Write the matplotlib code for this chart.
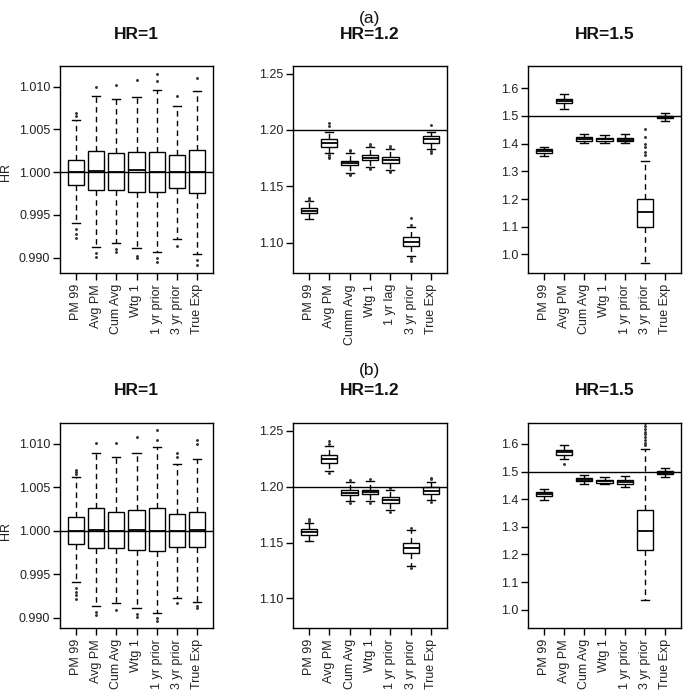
import matplotlib
matplotlib.use("Agg")
import matplotlib.pyplot as plt

plt.rcParams['font.family'] = ['Liberation Sans', 'DejaVu Sans']

# ---------------- data ----------------
labels_std = ["PM 99", "Avg PM", "Cum Avg", "Wtg 1", "1 yr prior", "3 yr prior", "True Exp"]
labels_a12 = ["PM 99", "Avg PM", "Cumm Avg", "Wtg 1", "1 yr lag", "3 yr prior", "True Exp"]

# each row: [lower whisker, Q1, median, Q3, upper whisker]
A1_STATS = [[0.9940, 0.99844, 1.0000, 1.00145, 1.0061],
            [0.99129, 0.99793, 1.00016, 1.00242, 1.0089],
            [0.9917, 0.9979, 1.0000, 1.0022, 1.0085],
            [0.9911, 0.9977, 1.0002, 1.0024, 1.0088],
            [0.9907, 0.9977, 1.0000, 1.0024, 1.0096],
            [0.9922, 0.9981, 1.0000, 1.0020, 1.0077],
            [0.9904, 0.9975, 1.0000, 1.0026, 1.0095]]
A1_FLIERS = [[1.0065, 1.0069, 0.9934, 0.9928, 0.9923],
             [1.0100, 0.9905, 0.9901],
             [1.0102, 0.9910, 0.9907],
             [1.0108, 0.9902, 0.9899],
             [1.0115, 1.0106, 0.9899, 0.9895],
             [1.0089, 0.9914],
             [1.0110, 0.9897, 0.9891]]

A2_STATS = [[1.1207, 1.1261, 1.1284, 1.1305, 1.1370],
            [1.1793, 1.1852, 1.1885, 1.1917, 1.1985],
            [1.1621, 1.1686, 1.1707, 1.1727, 1.1799],
            [1.1669, 1.1734, 1.1754, 1.1775, 1.1846],
            [1.1645, 1.1710, 1.1736, 1.1763, 1.1829],
            [1.0881, 1.0970, 1.1008, 1.1047, 1.1142],
            [1.1829, 1.1888, 1.1917, 1.1947, 1.1985]]
A2_FLIERS = [[1.1380, 1.1395],
             [1.2036, 1.2060, 1.1775, 1.1760, 1.1749],
             [1.1810, 1.1822, 1.1610, 1.1600],
             [1.1860, 1.1873, 1.1660, 1.1651],
             [1.1842, 1.1858, 1.1636, 1.1627],
             [1.1160, 1.1216, 1.0860, 1.0840],
             [1.2044, 1.1815, 1.1799]]

A3_STATS = [[1.3567, 1.3664, 1.3736, 1.3810, 1.3890],
            [1.5240, 1.5470, 1.5540, 1.5610, 1.5790],
            [1.4025, 1.4100, 1.4160, 1.4230, 1.4340],
            [1.4030, 1.4100, 1.4160, 1.4220, 1.4310],
            [1.4010, 1.4090, 1.4150, 1.4210, 1.4340],
            [0.9680, 1.1004, 1.1523, 1.1993, 1.3386],
            [1.4820, 1.4917, 1.4964, 1.5010, 1.5110]]
A3_FLIERS = [[], [], [], [], [],
             [1.358, 1.369, 1.389, 1.400, 1.425, 1.452],
             []]

B1_STATS = [[0.9941, 0.99846, 1.0000, 1.0016, 1.0062],
            [0.9914, 0.9980, 1.0001, 1.0026, 1.0090],
            [0.9917, 0.9980, 1.0000, 1.0022, 1.0085],
            [0.9912, 0.9978, 1.0001, 1.0024, 1.0090],
            [0.9906, 0.9977, 1.0000, 1.0026, 1.0096],
            [0.9923, 0.9981, 1.0000, 1.0020, 1.0077],
            [0.9918, 0.9981, 1.0001, 1.0022, 1.0083]]
B1_FLIERS = [[1.0065, 1.0068, 1.0070, 0.9935, 0.9930, 0.9926, 0.9922],
             [1.0101, 0.9907, 0.9903],
             [1.0101, 0.9909],
             [1.0108, 0.9905, 0.9901],
             [1.0116, 1.0104, 0.9900, 0.9897],
             [1.0085, 1.0090, 0.9917],
             [1.0100, 1.0104, 0.9914, 0.9911]]

B2_STATS = [[1.1517, 1.1568, 1.1595, 1.1619, 1.1672],
            [1.2143, 1.2215, 1.2250, 1.2286, 1.2364],
            [1.1872, 1.1926, 1.1946, 1.1973, 1.2042],
            [1.1872, 1.1935, 1.1952, 1.1973, 1.2051],
            [1.1792, 1.1851, 1.1878, 1.1905, 1.1970],
            [1.1293, 1.1410, 1.1454, 1.1499, 1.1613],
            [1.1881, 1.1935, 1.1964, 1.1995, 1.2045]]
B2_FLIERS = [[1.1690, 1.1708],
             [1.2385, 1.2411, 1.2125],
             [1.2060, 1.1852],
             [1.2070, 1.1852],
             [1.1991, 1.1771],
             [1.1632, 1.1275],
             [1.2065, 1.2080, 1.1865]]

B3_STATS = [[1.3986, 1.4105, 1.4180, 1.4250, 1.4370],
            [1.5470, 1.5590, 1.5698, 1.5800, 1.5950],
            [1.4554, 1.4650, 1.4710, 1.4770, 1.4866],
            [1.4560, 1.4590, 1.4650, 1.4710, 1.4820],
            [1.4446, 1.4550, 1.4630, 1.4700, 1.4830],
            [1.0362, 1.2149, 1.2838, 1.3623, 1.5830],
            [1.4820, 1.4917, 1.4965, 1.5010, 1.5130]]
B3_FLIERS = [[], [1.528], [], [], [],
             [1.595, 1.605, 1.615, 1.625, 1.635, 1.645, 1.655, 1.665, 1.675],
             []]

HR_TRUE = [1.0, 1.2, 1.5]
TITLES = ["HR=1", "HR=1.2", "HR=1.5"]
ROW_TAGS = ["(a)", "(b)"]

YT_1 = [0.990, 0.995, 1.000, 1.005, 1.010]
YT_1_LBL = ["0.990", "0.995", "1.000", "1.005", "1.010"]
YT_12 = [1.10, 1.15, 1.20, 1.25]
YT_12_LBL = ["1.10", "1.15", "1.20", "1.25"]
YT_15 = [1.0, 1.1, 1.2, 1.3, 1.4, 1.5, 1.6]
YT_15_LBL = ["1.0", "1.1", "1.2", "1.3", "1.4", "1.5", "1.6"]

# ---------------- layout ----------------
W, H = 685, 700
fig = plt.figure(figsize=(W / 100, H / 100), dpi=100)

col_x = [(60, 213), (293, 447), (528, 681)]
row_y = [(66, 273), (423, 628)]
ylims = [[(0.9882, 1.0124), (1.073, 1.2568), (0.9332, 1.6805)],
         [(0.98885, 1.0124), (1.0736, 1.257), (0.9337, 1.676)]]

panels = [[(A1_STATS, A1_FLIERS, labels_std), (A2_STATS, A2_FLIERS, labels_a12), (A3_STATS, A3_FLIERS, labels_std)],
          [(B1_STATS, B1_FLIERS, labels_std), (B2_STATS, B2_FLIERS, labels_std), (B3_STATS, B3_FLIERS, labels_std)]]
yticks = [(YT_1, YT_1_LBL), (YT_12, YT_12_LBL), (YT_15, YT_15_LBL)]

title_base = [39, 395]
tag_base = [23, 375]

for r in range(2):
    for c in range(3):
        x0, x1 = col_x[c]
        y0, y1 = row_y[r]
        ax = fig.add_axes([x0 / W, 1 - y1 / H, (x1 - x0) / W, (y1 - y0) / H])
        stats_rows, fliers, lbls = panels[r][c]
        stats = []
        for row, fl, lb in zip(stats_rows, fliers, lbls):
            stats.append(dict(whislo=row[0], q1=row[1], med=row[2], q3=row[3],
                              whishi=row[4], fliers=fl, label=lb))
        pos = list(range(1, len(stats) + 1))
        ax.bxp(stats, positions=pos, widths=0.8, capwidths=0.4, patch_artist=True,
               boxprops=dict(facecolor='white', edgecolor='black', linewidth=1.0),
               medianprops=dict(color='black', linewidth=1.3),
               whiskerprops=dict(color='black', linestyle=(0, (4, 3)), linewidth=1.0),
               capprops=dict(color='black', linewidth=1.0),
               flierprops=dict(marker='o', markersize=1.1, markerfacecolor='#333333',
                               markeredgecolor='#333333', linestyle='none'))
        ax.axhline(HR_TRUE[c], color='black', linewidth=1.0, zorder=5)
        ax.set_xlim(0.22, 7.78)
        ax.set_ylim(*ylims[r][c])
        yt, ytl = yticks[c]
        ax.set_yticks(yt)
        ax.set_yticklabels(ytl)
        ax.set_xticks(pos)
        ax.set_xticklabels(lbls, rotation=90)
        ax.tick_params(axis='both', direction='out', length=5, width=1.0,
                       labelsize=9, labelcolor='#222222', color='black')
        ax.tick_params(axis='y', pad=2)
        ax.tick_params(axis='x', pad=3)
        for s in ax.spines.values():
            s.set_linewidth(1.0)
            s.set_color('black')
        cx = (x0 + x1) / 2 / W
        fig.text(cx, 1 - title_base[r] / H, TITLES[c], ha='center', va='baseline',
                 fontsize=12.5, fontweight='bold', color='#111111')
        if c == 1:
            fig.text(cx, 1 - tag_base[r] / H, ROW_TAGS[r], ha='center', va='baseline',
                     fontsize=12.5, color='#111111')
        if c == 0:
            yc = (y0 + (ylims[r][c][1] - 1.0) / (ylims[r][c][1] - ylims[r][c][0]) * (y1 - y0))
            fig.text(6 / W, 1 - yc / H, "HR", rotation=90, ha='center', va='center',
                     fontsize=9, color='#222222')

fig.savefig("out.png", dpi=100)
